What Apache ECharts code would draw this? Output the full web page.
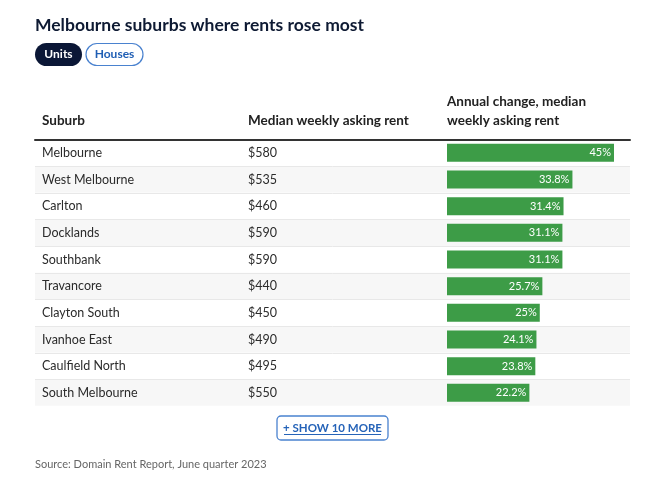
<!DOCTYPE html>
<html><head><meta charset="utf-8">
<script src="https://cdn.jsdelivr.net/npm/echarts@6/dist/echarts.min.js"></script>
<style>html,body{margin:0;padding:0;background:#fff}#c{width:666px;height:492px}</style>
</head><body><div id="c"></div>
<script>
const suburbs = ['Melbourne','West Melbourne','Carlton','Docklands','Southbank','Travancore','Clayton South','Ivanhoe East','Caulfield North','South Melbourne'];
const rents = ['$580','$535','$460','$590','$590','$440','$450','$490','$495','$550'];
const changes = [45, 33.8, 31.4, 31.1, 31.1, 25.7, 25, 24.1, 23.8, 22.2];

const FONT = 'Lato, "Open Sans", sans-serif';
const chart = echarts.init(document.getElementById('c'), null, {renderer:'canvas'});
const rowTop = 139.5, rowH = 266.7;
chart.setOption({
  backgroundColor:'#fff',
  animation:false,
  title:{ text:'Melbourne suburbs where rents rose most', left:30, top:11,
    textStyle:{fontFamily:FONT, fontSize:17.5, fontWeight:'bold', color:'#0e1a33'} },
  grid:[
    {left:35, width:595, top:rowTop, height:rowH},
    {left:447, width:167, top:rowTop, height:rowH}
  ],
  xAxis:[
    {gridIndex:0, type:'value', position:'top', min:0, max:1, axisLine:{show:true, lineStyle:{color:'#333', width:2}},
     axisTick:{show:false}, axisLabel:{show:false}, splitLine:{show:false}},
    {gridIndex:1, type:'value', min:0, max:45, show:false}
  ],
  yAxis:[
    {gridIndex:0, type:'category', data:suburbs, inverse:true, axisLine:{show:false}, axisTick:{show:false},
     axisLabel:{show:false},
     splitLine:{show:true, lineStyle:{color:'#e8e8e8', width:1}},
     splitArea:{show:true, areaStyle:{color:['#ffffff','#f7f7f7']}}},
    {gridIndex:0, type:'category', data:suburbs, inverse:true, position:'left', offset:-7,
     axisLine:{show:false}, axisTick:{show:false},
     axisLabel:{align:'left', margin:0, fontFamily:FONT, fontSize:12.5, color:'#2b2b2b'}},
    {gridIndex:0, type:'category', data:rents, inverse:true, position:'left', offset:-213,
     axisLine:{show:false}, axisTick:{show:false},
     axisLabel:{align:'left', margin:0, fontFamily:FONT, fontSize:12.5, color:'#2b2b2b'}},
    {gridIndex:1, type:'category', data:suburbs, inverse:true, show:false}
  ],
  series:[
    {type:'bar', xAxisIndex:1, yAxisIndex:3, data:changes, barWidth:18,
     itemStyle:{color:'#3d9c47'},
     label:{show:true, position:'insideRight', distance:3, color:'#fff', fontFamily:FONT, fontSize:11,
       formatter:p=>p.value+'%'}}
  ],
  graphic:[
    {type:'line', z:100, shape:{x1:35, y1:rowTop+rowH+0.5, x2:630, y2:rowTop+rowH+0.5}, style:{stroke:'#fff', lineWidth:2}},
    {type:'rect', shape:{x:35, y:43, width:47, height:23, r:11.5}, style:{fill:'#0b1736'}},
    {type:'text', x:58.5, y:54.5, style:{text:'Units', fill:'#fff', font:'bold 12px '+FONT, textAlign:'center', textVerticalAlign:'middle'}},
    {type:'rect', shape:{x:86, y:43.5, width:57, height:22, r:11}, style:{fill:'#fff', stroke:'#4a82cf', lineWidth:1.2}},
    {type:'text', x:114.5, y:54.5, style:{text:'Houses', fill:'#1f5eb4', font:'bold 12px '+FONT, textAlign:'center', textVerticalAlign:'middle'}},
    {type:'text', x:42, y:121, style:{text:'Suburb', fill:'#222', font:'bold 13.5px '+FONT, textVerticalAlign:'middle'}},
    {type:'text', x:248, y:121, style:{text:'Median weekly asking rent', fill:'#222', font:'bold 13.5px '+FONT, textVerticalAlign:'middle'}},
    {type:'text', x:447, y:102, style:{text:'Annual change, median', fill:'#222', font:'bold 13.5px '+FONT, textVerticalAlign:'middle'}},
    {type:'text', x:447, y:121, style:{text:'weekly asking rent', fill:'#222', font:'bold 13.5px '+FONT, textVerticalAlign:'middle'}},
    {type:'rect', shape:{x:277, y:416, width:111, height:24, r:4}, style:{fill:'#fff', stroke:'#4a82cf', lineWidth:1.3}},
    {type:'text', x:332.5, y:428, style:{text:'+ SHOW 10 MORE', fill:'#2563b8', font:'bold 11.5px '+FONT, textAlign:'center', textVerticalAlign:'middle'}},
    {type:'line', shape:{x1:284, y1:434.5, x2:381, y2:434.5}, style:{stroke:'#2563b8', lineWidth:1}},
    {type:'text', x:35, y:464, style:{text:'Source: Domain Rent Report, June quarter 2023', fill:'#666', font:'11px '+FONT, textVerticalAlign:'middle'}}
  ]
});
</script></body></html>
